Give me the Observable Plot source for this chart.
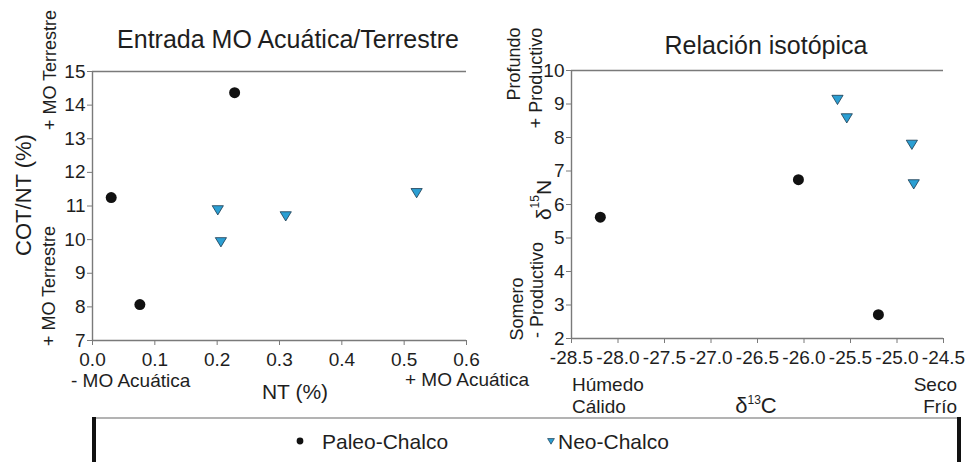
<!DOCTYPE html>
<html>
<head>
<meta charset="utf-8">
<script src="https://cdn.jsdelivr.net/npm/d3@7"></script>
<script src="https://cdn.jsdelivr.net/npm/@observablehq/plot@0.6"></script>
<style>
  html, body { margin: 0; padding: 0; background: #fff; }
  #fig { position: relative; width: 972px; height: 462px; overflow: hidden;
         font-family: "Liberation Sans", Arial, sans-serif; }
  #fig > svg { position: absolute; }
</style>
</head>
<body>
<div id="fig"></div>
<script>
// Sample groups
const groups = ["Paleo-Chalco", "Neo-Chalco"];

// Left panel: NT (%) vs COT/NT (%)
const paleoNT = [0.03, 0.076, 0.228];
const paleoCN = [11.25, 8.07, 14.37];
const neoNT = [0.201, 0.206, 0.31, 0.52];
const neoCN = [10.89, 9.94, 10.71, 11.4];

// Right panel: δ13C vs δ15N
const paleoD13C = [-28.19, -26.06, -25.2];
const paleoD15N = [5.62, 6.74, 2.71];
const neoD13C = [-25.64, -25.54, -24.84, -24.82];
const neoD15N = [9.14, 8.59, 7.8, 6.62];

// Axis ticks
const ntTicks = [0, 0.1, 0.2, 0.3, 0.4, 0.5, 0.6];
const cnTicks = [7, 8, 9, 10, 11, 12, 13, 14, 15];
const d13cTicks = [-28.5, -28, -27.5, -27, -26.5, -26, -25.5, -25, -24.5];
const d15nTicks = [2, 3, 4, 5, 6, 7, 8, 9, 10];

const FONT = '"Liberation Sans", Arial, sans-serif';
const AXIS = "#7a7a7a";
const INK = "#1e1e1e";
const BLUE = "#2b9fd3";

// Downward-pointing triangle for the Neo-Chalco samples
const triangleDown = {
  draw(ctx, size) {
    const r = Math.sqrt(size / Math.PI);
    const w = r * 1.12, t = r * 0.8, b = r * 1.05;
    ctx.moveTo(-w, -t);
    ctx.lineTo(w, -t);
    ctx.lineTo(0, b);
    ctx.closePath();
  }
};

const rows = (xs, ys, g) => xs.map((x, i) => ({x, y: ys[i], group: g}));
const fmt1 = d => d.toFixed(1);

function panel({xTicks, yTicks, paleo, neo, width, height, margins, xFormat}) {
  const xDom = [xTicks[0], xTicks[xTicks.length - 1]];
  const yDom = [yTicks[0], yTicks[yTicks.length - 1]];
  return Plot.plot({
    width, height, ...margins,
    style: {fontFamily: FONT, fontSize: "19px", color: INK, background: "transparent", overflow: "visible"},
    x: {domain: xDom},
    y: {domain: yDom},
    marks: [
      Plot.ruleY(yDom, {stroke: AXIS, strokeWidth: 1.4}),
      Plot.ruleX([xDom[0]], {stroke: AXIS, strokeWidth: 1.4}),
      Plot.axisX({ticks: xTicks, tickFormat: xFormat, tickSize: 5, tickPadding: 7, label: null, stroke: AXIS, fill: INK, fontSize: 19}),
      Plot.axisY({ticks: yTicks, tickFormat: d => String(d), tickSize: 5, tickPadding: 2, label: null, stroke: AXIS, fill: INK, fontSize: 19}),
      Plot.dot(paleo, {x: "x", y: "y", r: 5.5, fill: "#111", symbol: "circle"}),
      Plot.dot(neo, {x: "x", y: "y", r: 5, fill: BLUE, stroke: "#1b3a4f", strokeWidth: 0.8, symbol: triangleDown})
    ]
  });
}

const fig = document.getElementById("fig");

const left = panel({
  xTicks: ntTicks, yTicks: cnTicks, xFormat: fmt1,
  paleo: rows(paleoNT, paleoCN, groups[0]),
  neo: rows(neoNT, neoCN, groups[1]),
  width: 480, height: 372,
  margins: {marginLeft: 92, marginRight: 14, marginTop: 71, marginBottom: 32}
});
left.style.left = "0px"; left.style.top = "0px";
fig.appendChild(left);

const right = panel({
  xTicks: d13cTicks, yTicks: d15nTicks, xFormat: fmt1,
  paleo: rows(paleoD13C, paleoD15N, groups[0]),
  neo: rows(neoD13C, neoD15N, groups[1]),
  width: 470, height: 370,
  margins: {marginLeft: 81, marginRight: 17, marginTop: 70, marginBottom: 32}
});
right.style.left = "490px"; right.style.top = "0px";
fig.appendChild(right);

// Titles, axis captions and legend
const svg = d3.select(fig).append("svg")
  .attr("width", 972).attr("height", 462)
  .style("left", "0px").style("top", "0px")
  .attr("font-family", FONT).attr("fill", INK);

function label(txt, x, y, size, anchor = "middle", rotate = false) {
  const t = svg.append("text")
    .attr("font-size", size)
    .attr("text-anchor", anchor)
    .attr("dominant-baseline", rotate ? "central" : "auto");
  if (rotate) t.attr("transform", `translate(${x},${y}) rotate(-90)`);
  else t.attr("x", x).attr("y", y);
  t.text(txt);
  return t;
}

label("Entrada MO Acuática/Terrestre", 288, 48, 25);
label("Relación isotópica", 766, 54, 25);

label("COT/NT (%)", 23, 195, 22, "middle", true);
label("+ MO Terrestre", 50, 70, 18, "middle", true);
label("+ MO Terrestre", 49, 286, 18, "middle", true);
label("- MO Acuática", 71, 387, 19, "start");
label("+ MO Acuática", 405, 386, 19, "start");
label("NT (%)", 295, 399, 21);

label("Profundo", 514, 64, 18, "middle", true);
label("+ Productivo", 536, 78, 18, "middle", true);
label("Somero", 517, 309, 18, "middle", true);
label("- Productivo", 537, 290, 18, "middle", true);

// δ15N with superscript mass number
const n15 = svg.append("text").attr("font-size", 21).attr("text-anchor", "middle")
  .attr("dominant-baseline", "central")
  .attr("transform", "translate(543,200) rotate(-90)");
n15.append("tspan").text("δ");
n15.append("tspan").attr("font-size", 12).attr("dy", -8).text("15");
n15.append("tspan").attr("dy", 8).text("N");

label("Húmedo", 572, 391, 19, "start");
label("Cálido", 572, 413, 19, "start");
label("Seco", 957, 391, 19, "end");
label("Frío", 957, 413, 19, "end");

const c13 = svg.append("text").attr("font-size", 22).attr("text-anchor", "middle")
  .attr("x", 756).attr("y", 413);
c13.append("tspan").text("δ");
c13.append("tspan").attr("font-size", 12).attr("dy", -9).text("13");
c13.append("tspan").attr("dy", 9).text("C");

// Legend box
svg.append("line").attr("x1", 93).attr("x2", 960).attr("y1", 418).attr("y2", 418)
  .attr("stroke", "#9a9a9a").attr("stroke-width", 1.5);
svg.append("line").attr("x1", 94).attr("x2", 94).attr("y1", 417).attr("y2", 462)
  .attr("stroke", "#111").attr("stroke-width", 4);
svg.append("line").attr("x1", 959).attr("x2", 959).attr("y1", 417).attr("y2", 462)
  .attr("stroke", "#111").attr("stroke-width", 4);

const legendItems = [
  {g: groups[0], sx: 300, tx: 322, sym: d3.symbolCircle, size: 16 * Math.PI / 1.4, fill: "#111", stroke: "none"},
  {g: groups[1], sx: 551, tx: 558, sym: triangleDown, size: 12 * Math.PI / 1.3, fill: BLUE, stroke: "#1b3a4f"}
];
for (const it of legendItems) {
  svg.append("path")
    .attr("transform", `translate(${it.sx},441)`)
    .attr("d", d3.symbol(it.sym, it.size)())
    .attr("fill", it.fill).attr("stroke", it.stroke).attr("stroke-width", 0.7);
  label(it.g, it.tx, 449, 21, "start");
}
</script>
</body>
</html>
